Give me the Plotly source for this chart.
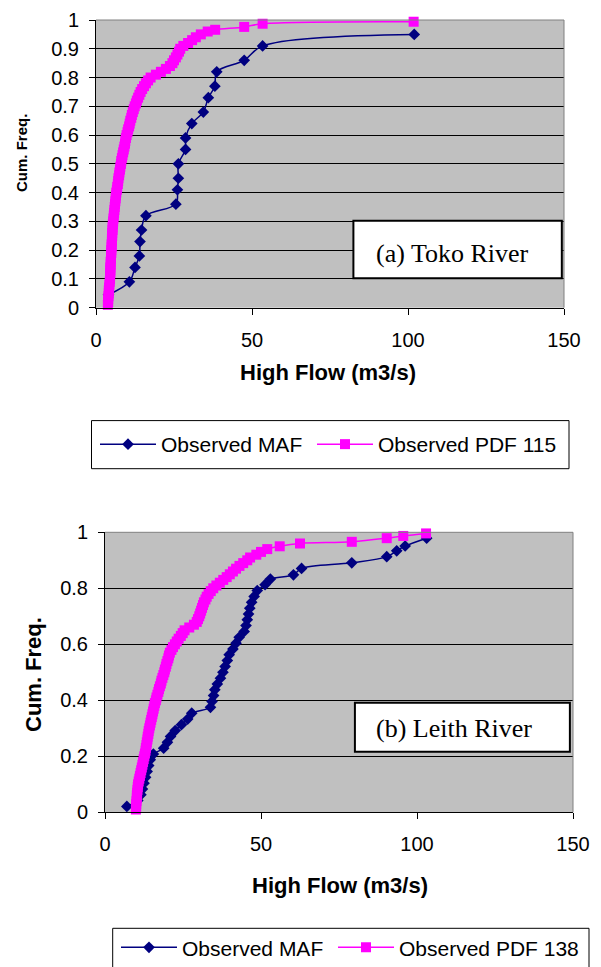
import plotly.graph_objects as go

# ---------------- data: (a) Toko River ----------------
maf_a_x = [4.0, 10.7, 12.5, 13.9, 14.1, 14.6, 16.0, 25.6, 26.1, 26.4, 26.4,
           28.7, 28.7, 30.7, 34.4, 36.0, 38.1, 38.7, 47.5, 53.4, 102.0]
maf_a_y = [0.045, 0.09, 0.14, 0.18, 0.23, 0.27, 0.32, 0.36, 0.41, 0.45, 0.50,
           0.55, 0.59, 0.64, 0.68, 0.73, 0.77, 0.82, 0.86, 0.91, 0.95]

pdf_a_x = [3.8, 3.9, 3.9, 4.0, 4.1, 4.1, 4.2, 4.3, 4.4, 4.5,
           4.5, 4.6, 4.6, 4.6, 4.7, 4.7, 4.8, 4.8, 4.9, 4.9,
           5.0, 5.0, 5.1, 5.1, 5.2, 5.2, 5.3, 5.3, 5.4, 5.5,
           5.6, 5.7, 5.8, 5.9, 6.0, 6.1, 6.2, 6.3, 6.4, 6.5,
           6.7, 6.8, 7.0, 7.1, 7.2, 7.4, 7.5, 7.7, 7.8, 8.0,
           8.1, 8.3, 8.5, 8.7, 8.9, 9.1, 9.3, 9.4, 9.6, 9.8,
           10.1, 10.3, 10.6, 10.8, 11.0, 11.3, 11.5, 11.8, 12.1, 12.4,
           12.8, 13.1, 13.5, 13.9, 14.3, 14.8, 15.4, 16.0, 16.7, 17.5,
           19.2, 20.8, 22.4, 23.7, 24.5, 25.0, 25.6, 26.1, 26.6, 27.0,
           28.0, 29.5, 30.8, 32.0, 33.6, 35.8, 38.2, 47.5, 53.4, 101.8]
pdf_a_y = [0.01, 0.02, 0.03, 0.04, 0.05, 0.06, 0.07, 0.08, 0.09, 0.10,
           0.11, 0.12, 0.13, 0.14, 0.15, 0.16, 0.17, 0.18, 0.19, 0.20,
           0.21, 0.22, 0.23, 0.24, 0.25, 0.26, 0.27, 0.28, 0.29, 0.30,
           0.31, 0.32, 0.33, 0.34, 0.35, 0.36, 0.37, 0.38, 0.39, 0.40,
           0.41, 0.42, 0.43, 0.44, 0.45, 0.46, 0.47, 0.48, 0.49, 0.50,
           0.51, 0.52, 0.53, 0.54, 0.55, 0.56, 0.57, 0.58, 0.59, 0.60,
           0.61, 0.62, 0.63, 0.64, 0.65, 0.66, 0.67, 0.68, 0.69, 0.70,
           0.71, 0.72, 0.73, 0.74, 0.75, 0.76, 0.77, 0.78, 0.79, 0.80,
           0.81, 0.82, 0.83, 0.84, 0.85, 0.86, 0.87, 0.88, 0.89, 0.90,
           0.91, 0.92, 0.93, 0.94, 0.95, 0.96, 0.966, 0.976, 0.987, 0.994]

# ---------------- data: (b) Leith River ----------------
maf_b_x = [7.0, 10.5, 11.5, 12.0, 12.5, 13.0, 13.5, 14.0, 14.5, 15.5,
           18.8, 20.0, 21.0, 22.5, 24.5, 26.5, 27.8, 33.8, 34.3, 34.8,
           35.2, 36.0, 37.0, 37.8, 38.5, 39.2, 39.8, 41.0, 42.0, 43.0,
           44.6, 45.2, 45.6, 46.0, 46.4, 47.0, 47.8, 48.8, 51.3, 53.0,
           60.4, 63.0, 79.1, 90.3, 93.5, 96.2, 103.1]
maf_b_y = [0.021, 0.042, 0.063, 0.083, 0.104, 0.125, 0.146, 0.167, 0.188, 0.208,
           0.229, 0.250, 0.271, 0.292, 0.313, 0.333, 0.354, 0.375, 0.396, 0.417,
           0.438, 0.458, 0.479, 0.500, 0.521, 0.542, 0.563, 0.583, 0.604, 0.625,
           0.646, 0.667, 0.688, 0.708, 0.729, 0.750, 0.771, 0.792, 0.813, 0.833,
           0.848, 0.871, 0.891, 0.913, 0.934, 0.951, 0.979]

pdf_b_x = [9.9, 10.0, 10.0, 10.1, 10.2, 10.2, 10.3, 10.4, 10.5, 10.6,
           10.8, 11.0, 11.2, 11.4, 11.6, 11.8, 12.0, 12.2, 12.4, 12.6,
           12.8, 13.0, 13.1, 13.3, 13.4, 13.6, 13.7, 13.9, 14.0, 14.2,
           14.4, 14.6, 14.8, 15.0, 15.2, 15.4, 15.6, 15.8, 16.0, 16.3,
           16.5, 16.8, 17.1, 17.3, 17.6, 17.9, 18.1, 18.4, 18.7, 19.0,
           19.2, 19.5, 19.7, 20.0, 20.3, 20.5, 20.8, 21.3, 21.8, 22.4,
           23.0, 23.6, 24.3, 24.9, 25.5, 27.0, 28.5, 29.4, 29.8, 30.2,
           30.5, 30.8, 31.1, 31.4, 31.7, 32.2, 32.6, 33.2, 33.9, 34.7,
           35.7, 36.8, 37.9, 39.0, 40.0, 41.0, 42.0, 43.1, 44.3, 45.6,
           46.5, 48.5, 50.0, 52.0, 56.0, 62.5, 79.1, 90.3, 95.6, 102.9]
pdf_b_y = [0.01, 0.02, 0.03, 0.04, 0.05, 0.06, 0.07, 0.08, 0.09, 0.10,
           0.11, 0.12, 0.13, 0.14, 0.15, 0.16, 0.17, 0.18, 0.19, 0.20,
           0.21, 0.22, 0.23, 0.24, 0.25, 0.26, 0.27, 0.28, 0.29, 0.30,
           0.31, 0.32, 0.33, 0.34, 0.35, 0.36, 0.37, 0.38, 0.39, 0.40,
           0.41, 0.42, 0.43, 0.44, 0.45, 0.46, 0.47, 0.48, 0.49, 0.50,
           0.51, 0.52, 0.53, 0.54, 0.55, 0.56, 0.57, 0.58, 0.59, 0.60,
           0.61, 0.62, 0.63, 0.64, 0.65, 0.66, 0.67, 0.68, 0.69, 0.70,
           0.71, 0.72, 0.73, 0.74, 0.75, 0.76, 0.77, 0.78, 0.79, 0.80,
           0.81, 0.82, 0.83, 0.84, 0.85, 0.86, 0.87, 0.88, 0.89, 0.90,
           0.91, 0.92, 0.93, 0.94, 0.95, 0.96, 0.966, 0.979, 0.987, 0.996]

x_ticks = [0, 50, 100, 150]
NAVY = "#000080"
PINK = "#FF00FF"
SANS = "Liberation Sans, Arial, sans-serif"
SERIF = "Liberation Serif, Times New Roman, serif"

W, H = 601, 967


def px_x(p):
    return p / W


def px_y(p):
    return 1 - p / H


fig = go.Figure()

# top chart
fig.add_trace(go.Scatter(x=maf_a_x, y=maf_a_y, name="Observed MAF", mode="lines+markers",
                         line=dict(color=NAVY, width=1.5, shape="spline"),
                         marker=dict(symbol="diamond", size=9, color=NAVY),
                         cliponaxis=False, xaxis="x", yaxis="y", legend="legend",
                         legendwidth=146))
fig.add_trace(go.Scatter(x=pdf_a_x, y=pdf_a_y, name="Observed PDF 115", mode="lines+markers",
                         line=dict(color=PINK, width=1.5, shape="spline"),
                         marker=dict(symbol="square", size=10, color=PINK),
                         cliponaxis=False, xaxis="x", yaxis="y", legend="legend",
                         legendwidth=190))
# bottom chart
fig.add_trace(go.Scatter(x=maf_b_x, y=maf_b_y, name="Observed MAF", mode="lines+markers",
                         line=dict(color=NAVY, width=1.5, shape="spline"),
                         marker=dict(symbol="diamond", size=9, color=NAVY),
                         cliponaxis=False, xaxis="x2", yaxis="y2", legend="legend2",
                         legendwidth=146))
fig.add_trace(go.Scatter(x=pdf_b_x, y=pdf_b_y, name="Observed PDF 138", mode="lines+markers",
                         line=dict(color=PINK, width=1.5, shape="spline"),
                         marker=dict(symbol="square", size=10, color=PINK),
                         cliponaxis=False, xaxis="x2", yaxis="y2", legend="legend2",
                         legendwidth=190))

xcommon = dict(range=[0, 150], tickvals=x_ticks, showgrid=False, zeroline=False,
               showline=True, linecolor="black", linewidth=1,
               ticks="outside", ticklen=6, tickcolor="black",
               tickfont=dict(family=SANS, size=20, color="black"),
               ticklabelstandoff=8, automargin=False)
ycommon = dict(range=[0, 1], showgrid=True, gridcolor="black", gridwidth=1, zeroline=False,
               showline=True, linecolor="black", linewidth=1,
               ticks="outside", ticklen=6, tickcolor="black",
               tickfont=dict(family=SANS, size=20, color="black"),
               ticklabelstandoff=6, automargin=False)

fig.update_layout(
    width=W, height=H,
    margin=dict(l=0, r=0, t=0, b=0, pad=0, autoexpand=False),
    paper_bgcolor="white",
    plot_bgcolor="#C0C0C0",
    xaxis=dict(domain=[px_x(96), px_x(564)], anchor="y", **xcommon),
    yaxis=dict(domain=[px_y(307.7), px_y(20)], anchor="x", dtick=0.1, **ycommon),
    xaxis2=dict(domain=[px_x(105), px_x(573)], anchor="y2", **xcommon),
    yaxis2=dict(domain=[px_y(812.3), px_y(532.3)], anchor="x2", dtick=0.2, **ycommon),
    legend=dict(orientation="h", x=px_x(95), xanchor="left", y=px_y(444.5), yanchor="middle",
                bgcolor="rgba(0,0,0,0)", borderwidth=0, itemwidth=56,
                font=dict(family=SANS, size=21, color="black")),
    legend2=dict(orientation="h", x=px_x(116), xanchor="left", y=px_y(947.7), yanchor="middle",
                 bgcolor="rgba(0,0,0,0)", borderwidth=0, itemwidth=56,
                 font=dict(family=SANS, size=21, color="black")),
)

shapes = [
    # plot-area top/right borders (grey)
    dict(type="line", xref="x domain", yref="y domain", x0=0, x1=1, y0=1, y1=1,
         line=dict(color="#808080", width=1)),
    dict(type="line", xref="x domain", yref="y domain", x0=1, x1=1, y0=0, y1=1,
         line=dict(color="#808080", width=1)),
    dict(type="line", xref="x2 domain", yref="y2 domain", x0=0, x1=1, y0=1, y1=1,
         line=dict(color="#808080", width=1)),
    dict(type="line", xref="x2 domain", yref="y2 domain", x0=1, x1=1, y0=0, y1=1,
         line=dict(color="#808080", width=1)),
    # river label boxes
    dict(type="rect", xref="x", yref="y", x0=82.5, x1=149.3, y0=0.102, y1=0.302,
         fillcolor="white", line=dict(color="black", width=2)),
    dict(type="rect", xref="x2", yref="y2", x0=80.1, x1=149.0, y0=0.216, y1=0.391,
         fillcolor="white", line=dict(color="black", width=2)),
    # legend boxes
    dict(type="rect", xref="paper", yref="paper", x0=px_x(91.5), x1=px_x(569),
         y0=px_y(468.7), y1=px_y(420.6), fillcolor="white", line=dict(color="black", width=1),
         layer="below"),
    dict(type="rect", xref="paper", yref="paper", x0=px_x(112.7), x1=px_x(589),
         y0=px_y(990), y1=px_y(928.3), fillcolor="white", line=dict(color="black", width=1),
         layer="below"),
]

annotations = [
    dict(text="(a) Toko River", xref="x", yref="y", x=114.4, y=0.19, showarrow=False,
         xanchor="center", yanchor="middle",
         font=dict(family=SERIF, size=26, color="black")),
    dict(text="(b) Leith River", xref="x2", yref="y2", x=111.9, y=0.301, showarrow=False,
         xanchor="center", yanchor="middle",
         font=dict(family=SERIF, size=26, color="black")),
    dict(text="<b>High Flow (m3/s)</b>", xref="paper", yref="paper", x=px_x(328), y=px_y(372),
         showarrow=False, xanchor="center", yanchor="middle",
         font=dict(family=SANS, size=22, color="black")),
    dict(text="<b>Cum. Freq.</b>", xref="paper", yref="paper", x=px_x(21), y=px_y(153),
         showarrow=False, textangle=-90, xanchor="center", yanchor="middle",
         font=dict(family=SANS, size=15, color="black")),
    dict(text="<b>High Flow (m3/s)</b>", xref="paper", yref="paper", x=px_x(340), y=px_y(885),
         showarrow=False, xanchor="center", yanchor="middle",
         font=dict(family=SANS, size=22, color="black")),
    dict(text="<b>Cum. Freq.</b>", xref="paper", yref="paper", x=px_x(33), y=px_y(675),
         showarrow=False, textangle=-90, xanchor="center", yanchor="middle",
         font=dict(family=SANS, size=22, color="black")),
]

fig.update_layout(shapes=shapes, annotations=annotations)
fig.write_html("out.html", config={"displayModeBar": False},
               post_script="document.body.style.margin='0px';document.body.style.overflow='hidden';")
